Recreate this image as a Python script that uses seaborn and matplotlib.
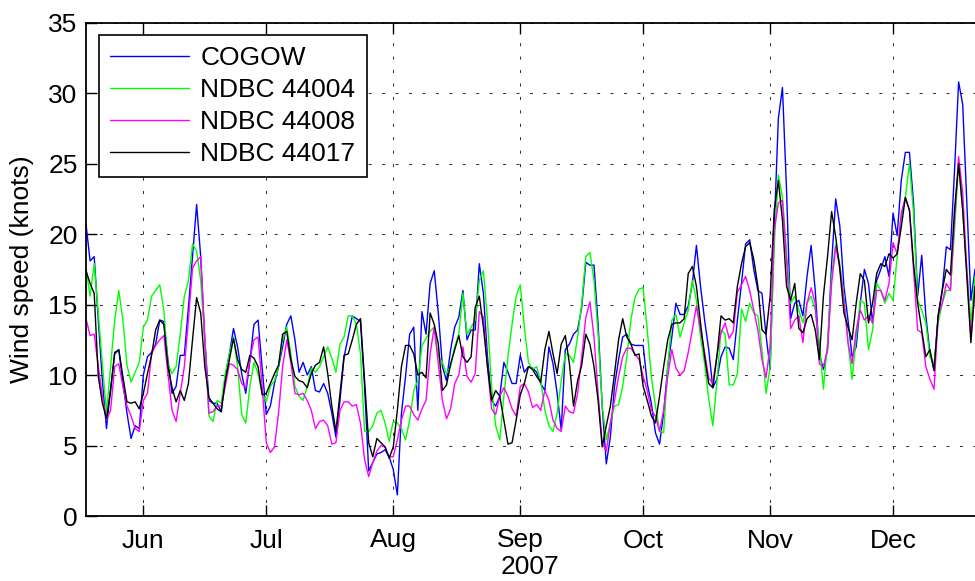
import pandas as pd
import matplotlib
matplotlib.use("Agg")
import matplotlib.pyplot as plt
import matplotlib.dates as mdates
import seaborn as sns

# Daily mean wind speed (knots), one value per day starting 18 May 2007
start_date = "2007-05-18"
end_date = "2007-12-21"

cogow = [
    20.7, 18.1, 18.4, 13.9, 9.6, 6.2, 9.0, 11.5, 11.8, 9.5, 7.3, 5.5, 6.4, 6.2, 10.0, 11.3, 11.6, 12.2,
    13.9, 13.8, 11.1, 8.7, 9.2, 11.4, 11.4, 14.8, 18.4, 22.1, 18.4, 12.5, 8.2, 8.0, 8.0, 7.4, 9.9, 11.5,
    13.3, 12.0, 10.1, 8.7, 11.0, 13.6, 13.9, 10.5, 7.2, 7.8, 9.4, 10.6, 12.0, 13.6, 14.2, 12.5, 10.2, 10.9,
    10.0, 10.6, 8.9, 8.8, 9.4, 8.7, 7.3, 5.6, 8.2, 11.3, 12.7, 14.2, 14.0, 13.8, 9.2, 3.2, 3.8, 4.4,
    4.5, 4.7, 4.2, 3.3, 1.5, 7.3, 9.9, 12.9, 13.4, 7.5, 14.5, 12.9, 16.5, 17.4, 14.4, 10.6, 9.6, 11.8,
    13.4, 14.1, 16.0, 12.5, 13.2, 13.2, 17.9, 15.8, 11.3, 8.2, 7.8, 8.5, 10.9, 10.2, 9.4, 9.4, 11.4, 10.2,
    10.6, 10.5, 10.2, 9.4, 8.9, 12.0, 10.8, 8.7, 6.1, 11.8, 12.2, 12.9, 13.2, 14.8, 18.0, 17.8, 17.8, 13.6,
    7.8, 3.7, 5.6, 9.2, 11.1, 12.7, 12.9, 12.2, 12.1, 12.1, 12.1, 9.4, 8.0, 5.9, 5.1, 7.3, 10.6, 12.7,
    15.1, 14.3, 14.3, 14.9, 16.5, 19.2, 16.3, 13.9, 11.8, 9.1, 9.7, 11.3, 12.0, 11.9, 11.1, 13.9, 16.5, 19.3,
    19.6, 17.5, 16.0, 15.8, 12.8, 10.4, 20.5, 28.2, 30.4, 23.1, 14.0, 15.1, 15.3, 14.2, 17.0, 19.2, 16.0, 11.5,
    10.4, 11.8, 17.9, 22.5, 20.6, 16.3, 13.9, 11.3, 12.0, 15.1, 17.5, 16.5, 13.7, 16.7, 17.5, 18.4, 17.0, 21.5,
    19.9, 23.8, 25.8, 25.8, 22.2, 15.6, 18.5, 14.2, 11.6, 10.4, 14.2, 16.0, 19.1, 18.9, 24.5, 30.8, 29.2, 22.2,
    15.3, 17.5,
]

ndbc_44004 = [
    17.6, 15.6, 17.9, 14.4, 10.8, 7.3, 10.6, 13.9, 16.0, 13.9, 10.7, 9.5, 10.2, 10.9, 13.4, 13.9, 15.6, 16.0,
    16.4, 14.6, 10.8, 10.1, 10.6, 12.9, 15.6, 16.7, 19.3, 18.8, 16.7, 12.5, 7.1, 6.7, 8.2, 8.0, 10.1, 11.5,
    12.7, 10.6, 7.2, 6.6, 9.2, 10.9, 10.1, 8.7, 8.1, 9.2, 9.6, 10.6, 12.5, 13.4, 11.5, 9.2, 8.5, 8.2,
    9.2, 10.5, 10.2, 10.6, 11.3, 12.0, 11.2, 10.2, 12.2, 12.7, 14.2, 14.2, 13.6, 11.5, 6.0, 6.0, 6.4, 7.3,
    7.5, 6.6, 5.3, 6.7, 6.6, 6.2, 5.4, 6.8, 8.9, 9.6, 12.1, 12.6, 13.1, 13.4, 11.3, 10.9, 10.1, 10.6,
    12.0, 12.9, 15.8, 12.9, 13.4, 13.9, 16.7, 17.4, 13.9, 9.2, 6.4, 5.4, 8.5, 11.3, 13.6, 15.6, 16.4, 13.4,
    10.9, 10.4, 10.6, 9.6, 7.5, 6.4, 6.0, 7.3, 9.6, 11.5, 11.4, 10.9, 12.7, 15.1, 18.4, 18.7, 16.7, 12.9,
    7.8, 5.4, 6.6, 7.8, 7.9, 9.2, 11.3, 13.9, 15.5, 16.1, 16.2, 13.2, 9.9, 7.8, 6.1, 5.9, 10.6, 13.9,
    14.3, 12.7, 13.7, 14.6, 16.7, 15.3, 12.7, 10.8, 8.3, 6.4, 9.5, 13.2, 12.9, 9.3, 9.3, 10.1, 14.7, 13.8,
    15.1, 14.4, 14.2, 11.8, 8.7, 10.6, 19.3, 24.2, 22.6, 18.6, 15.1, 15.6, 14.6, 13.7, 15.1, 15.6, 14.6, 12.3,
    9.0, 12.3, 17.0, 19.3, 17.9, 15.6, 12.3, 9.7, 12.7, 15.3, 15.1, 11.8, 13.2, 16.5, 16.0, 15.1, 15.8, 15.3,
    18.4, 21.2, 22.6, 25.0, 21.5, 15.3, 14.6, 13.7, 11.3, 10.8, 13.7, 15.1, 16.0, 16.0, 20.3, 25.0, 21.7, 17.5,
    13.7, 17.0,
]

ndbc_44008 = [
    14.0, 12.8, 12.9, 10.6, 8.5, 6.8, 7.5, 10.6, 10.8, 9.2, 7.8, 7.1, 6.2, 6.0, 8.2, 8.7, 11.5, 12.1,
    12.5, 12.8, 10.1, 7.5, 6.7, 8.7, 10.6, 13.9, 17.6, 18.1, 18.4, 12.5, 7.3, 7.4, 7.8, 7.8, 9.2, 10.8,
    10.7, 10.4, 9.4, 9.1, 11.1, 12.5, 12.7, 9.2, 5.2, 4.5, 4.9, 7.3, 10.6, 12.5, 10.9, 8.7, 8.6, 8.7,
    8.2, 7.5, 6.2, 6.7, 6.8, 6.4, 5.1, 5.2, 7.5, 8.1, 8.1, 7.8, 7.9, 6.6, 4.0, 2.8, 3.8, 4.6,
    5.0, 4.9, 4.2, 4.2, 5.4, 6.8, 7.8, 7.8, 7.2, 6.8, 7.6, 8.2, 11.5, 13.4, 10.8, 8.2, 6.9, 7.6,
    9.4, 10.0, 12.0, 9.9, 9.5, 10.1, 14.5, 14.1, 10.6, 7.6, 7.2, 8.5, 9.1, 8.5, 7.6, 7.1, 9.2, 9.4,
    8.8, 7.7, 7.9, 7.5, 8.9, 8.2, 6.8, 6.2, 6.0, 7.8, 7.4, 7.3, 8.7, 11.3, 14.1, 15.2, 12.7, 8.7,
    5.2, 4.6, 6.6, 8.2, 9.9, 11.3, 11.9, 11.9, 11.5, 11.1, 9.9, 8.9, 7.5, 7.1, 6.0, 7.5, 9.9, 11.8,
    10.5, 10.0, 10.3, 11.6, 13.2, 14.9, 13.2, 11.6, 9.8, 9.4, 11.4, 13.0, 13.7, 12.6, 13.1, 15.9, 16.4, 17.0,
    16.0, 14.6, 13.2, 11.1, 9.8, 12.1, 20.3, 22.2, 22.4, 18.2, 13.3, 13.9, 14.2, 12.3, 15.1, 16.2, 15.1, 10.8,
    10.6, 11.8, 16.5, 19.1, 17.7, 15.3, 12.3, 10.8, 13.2, 14.6, 13.9, 14.2, 13.7, 16.0, 16.0, 15.3, 16.5, 19.4,
    18.6, 21.5, 22.6, 21.7, 17.5, 13.2, 13.0, 10.6, 9.7, 9.0, 14.2, 15.1, 16.5, 16.0, 21.0, 25.5, 22.9, 17.5,
    12.7, 16.0,
]

ndbc_44017 = [
    17.4, 16.5, 15.8, 9.9, 8.0, 6.9, 8.9, 11.6, 11.8, 9.9, 8.1, 8.0, 8.1, 7.6, 8.7, 10.1, 11.4, 13.2,
    13.9, 13.6, 10.6, 9.1, 8.1, 8.9, 8.2, 9.4, 12.5, 15.5, 14.4, 10.6, 8.4, 8.0, 7.6, 7.4, 9.6, 11.1,
    12.6, 11.1, 10.4, 10.2, 11.4, 11.2, 10.6, 8.6, 8.7, 9.4, 10.1, 10.7, 12.9, 13.1, 11.1, 9.9, 9.6, 9.5,
    9.1, 10.1, 10.7, 10.9, 12.0, 10.1, 7.8, 6.0, 8.7, 11.4, 11.5, 12.5, 13.6, 14.0, 9.6, 5.2, 4.2, 5.5,
    5.2, 4.9, 4.1, 4.9, 7.5, 10.6, 12.1, 12.1, 11.5, 10.0, 10.2, 9.8, 14.4, 13.6, 12.2, 8.9, 9.3, 10.8,
    11.8, 12.8, 11.3, 10.9, 11.3, 14.8, 15.6, 13.4, 10.6, 8.2, 8.9, 8.5, 6.8, 5.1, 5.2, 6.8, 8.6, 9.4,
    10.6, 10.4, 9.9, 9.5, 11.8, 13.1, 11.5, 10.1, 12.2, 12.8, 10.8, 7.8, 9.6, 10.7, 12.9, 12.2, 10.6, 8.2,
    4.9, 6.4, 7.8, 10.1, 12.5, 14.0, 12.7, 12.2, 11.4, 11.5, 9.2, 8.2, 7.1, 6.6, 8.5, 10.6, 12.5, 13.6,
    13.7, 13.7, 14.0, 17.2, 17.7, 16.3, 13.7, 11.3, 9.4, 9.1, 11.3, 14.2, 13.9, 14.0, 13.7, 16.3, 17.9, 19.1,
    19.4, 18.2, 16.3, 13.2, 12.9, 15.6, 21.7, 23.8, 21.0, 16.3, 15.3, 16.5, 13.3, 13.0, 14.0, 14.3, 13.2, 11.1,
    15.6, 18.4, 21.6, 19.8, 17.5, 14.4, 13.4, 12.5, 15.1, 17.2, 16.7, 13.7, 15.1, 17.2, 17.9, 17.7, 18.6, 18.3,
    18.6, 20.5, 22.6, 21.7, 17.9, 15.1, 13.2, 11.3, 11.8, 10.3, 14.2, 16.0, 17.5, 17.1, 21.7, 25.0, 21.7, 17.0,
    12.3, 16.3,
]

series_names = ["COGOW", "NDBC 44004", "NDBC 44008", "NDBC 44017"]
series_colors = ["#0000ff", "#00ff00", "#ff00ff", "#000000"]
month_ticks = pd.date_range("2007-06-01", "2007-12-01", freq="MS")

dates = pd.date_range(start_date, periods=len(cogow), freq="D")
frames = []
for name, values in zip(series_names, [cogow, ndbc_44004, ndbc_44008, ndbc_44017]):
    frames.append(pd.DataFrame({"date": dates, "speed": values, "series": name}))
data = pd.concat(frames, ignore_index=True)

sns.set_theme(style="white")
plt.rcParams["font.family"] = ["Liberation Sans", "DejaVu Sans"]

FS = 19

fig = plt.figure(figsize=(9.75, 5.81), dpi=100)
ax = fig.add_axes([86 / 975, 65 / 581, 889 / 975, 493.3 / 581])

sns.lineplot(
    data=data, x="date", y="speed", hue="series", hue_order=series_names,
    palette=series_colors, linewidth=1.0, ax=ax, legend=False,
    estimator=None, sort=True,
)

ax.set_xlim(pd.Timestamp(start_date), pd.Timestamp(end_date))
ax.set_ylim(0, 35)
ax.set_yticks(range(0, 36, 5))
ax.set_xticks(month_ticks)
ax.xaxis.set_major_formatter(mdates.DateFormatter("%b"))

ax.grid(True, color="0.2", linewidth=0.75, linestyle=(0, (2.9, 10)))
ax.set_axisbelow(True)

ax.tick_params(axis="both", direction="in", length=8, width=1.0, color="black",
               labelsize=FS, labelcolor="black", top=True, right=False,
               bottom=True, left=True)
ax.tick_params(axis="x", pad=9)
ax.tick_params(axis="y", pad=6)

for side in ["left", "bottom", "top"]:
    ax.spines[side].set_color("black")
    ax.spines[side].set_linewidth(1.3)
ax.spines["right"].set_visible(False)

ax.set_xlabel("2007", fontsize=FS, color="black", labelpad=2)
ax.set_ylabel("Wind speed (knots)", fontsize=FS, color="black", labelpad=10)

handles = [plt.Line2D([], [], color=c, linewidth=1.0) for c in series_colors]
leg = ax.legend(handles, series_names, loc="upper left", bbox_to_anchor=(0.0146, 0.975),
                borderaxespad=0, frameon=True, fancybox=False, framealpha=1,
                edgecolor="black", fontsize=FS, handlelength=3.0, handletextpad=0.42,
                labelspacing=0.3, borderpad=0.42)
leg.get_frame().set_linewidth(1.2)
for txt in leg.get_texts():
    txt.set_color("black")

fig.savefig("out.png", dpi=100)
